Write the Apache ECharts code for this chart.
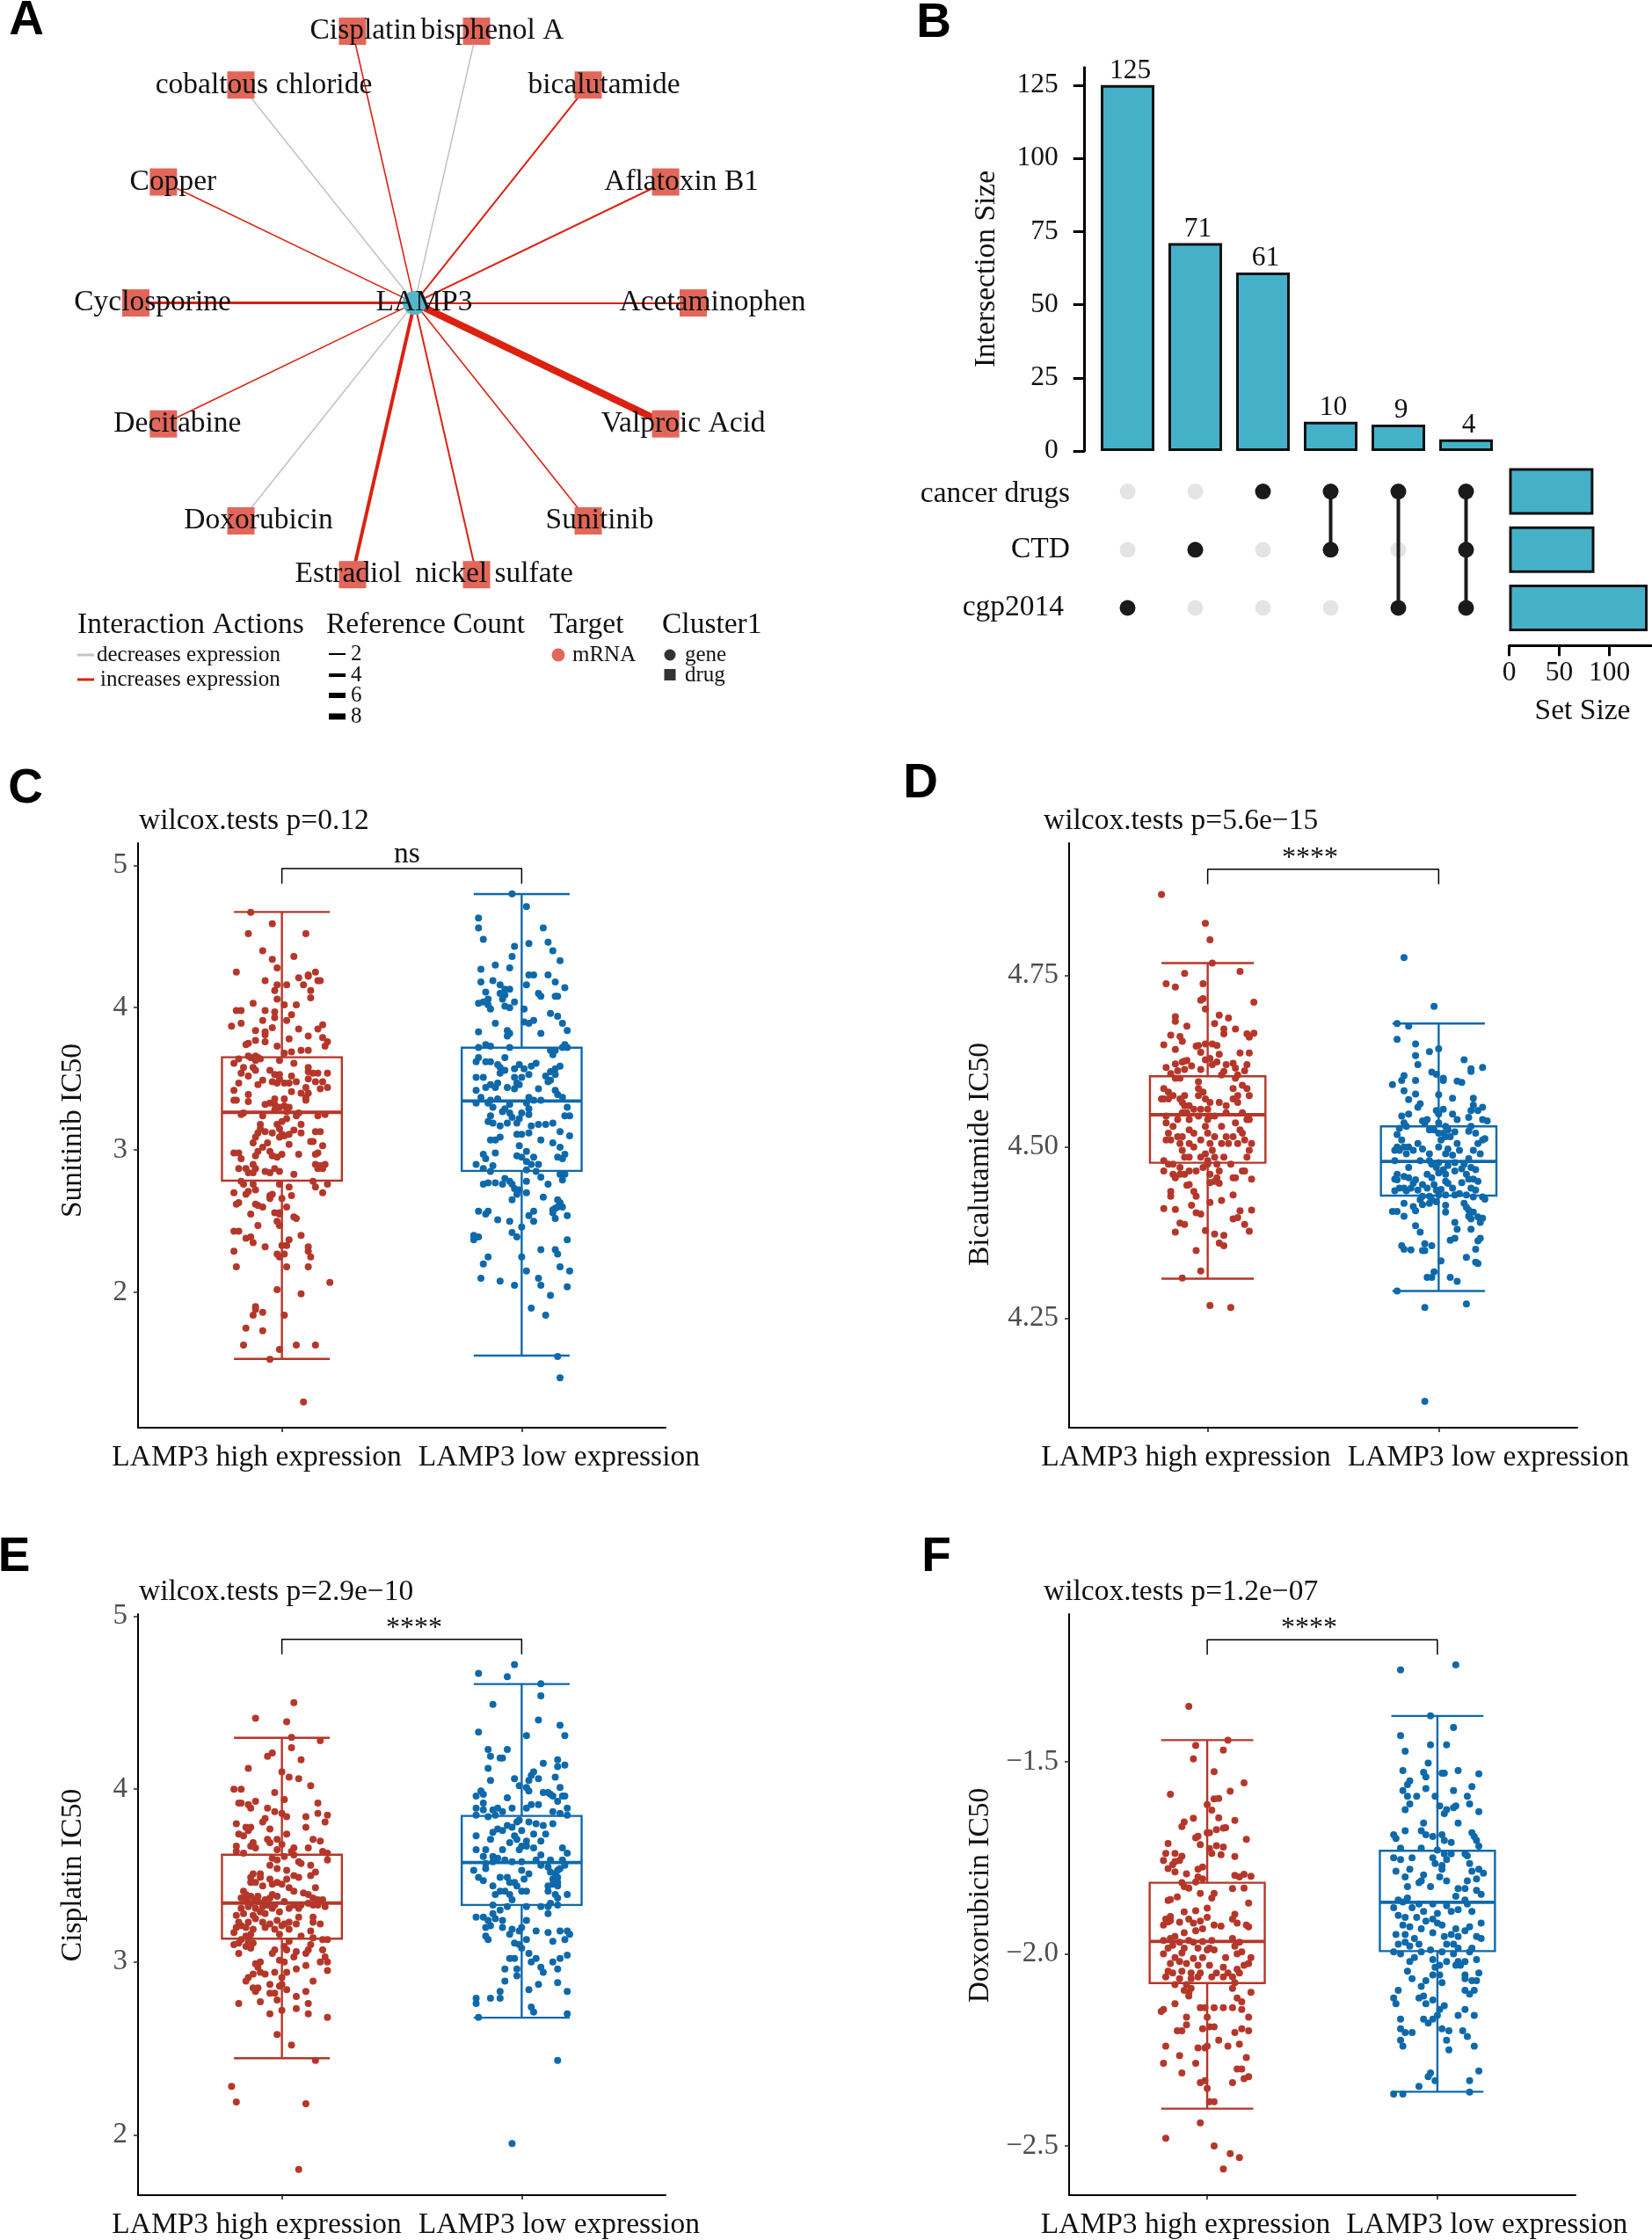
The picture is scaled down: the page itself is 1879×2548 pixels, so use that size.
<!DOCTYPE html>
<html>
<head>
<meta charset="utf-8">
<script src="https://cdn.jsdelivr.net/npm/echarts@6/dist/echarts.min.js"></script>
<style>html,body{margin:0;background:#fff}#main{width:1879px;height:2548px}</style>
</head>
<body>
<div id="main"></div>
<script>
// panel A
const drugNames = ['Acetaminophen','Aflatoxin B1','bicalutamide','bisphenol A','Cisplatin','cobaltous chloride','Copper','Cyclosporine','Decitabine','Doxorubicin','Estradiol','nickel sulfate','Sunitinib','Valproic Acid'];
const drugX = [1,0.901,0.623,0.2225,-0.2225,-0.623,-0.901,-1,-0.901,-0.623,-0.2225,0.2225,0.623,0.901];
const drugY = [0,0.434,0.782,0.975,0.975,0.782,0.434,0,-0.434,-0.782,-0.975,-0.975,-0.782,-0.434];
const refCounts = [2,2,2,1,1,1,1,3,1,1,4,2,1,8];
const increases = [1,1,1,0,1,0,1,1,1,0,1,1,1,1];

// panel B
const interSizes = [125,71,61,10,9,4];
const interRows = [[2],[1],[0],[0,1],[0,2],[0,1,2]];
const setNames = ['cancer drugs','CTD','cgp2014'];
const setSizes = [84,85,138];

// panels C-F, [low whisker, q1, median, q3, high whisker]
const sunitinibHighBox = [1.533,2.785,3.265,3.652,4.672];
const sunitinibLowBox = [1.556,2.854,3.344,3.719,4.798];
const bicalutamideHighBox = [4.308,4.477,4.547,4.603,4.768];
const bicalutamideLowBox = [4.29,4.429,4.479,4.53,4.68];
const cisplatinHighBox = [2.443,3.135,3.341,3.621,4.297];
const cisplatinLowBox = [2.678,3.33,3.576,3.845,4.608];
const doxorubicinHighBox = [-2.403,-2.076,-1.968,-1.815,-1.444];
const doxorubicinLowBox = [-2.359,-1.993,-1.866,-1.732,-1.381];

const sunitinibHigh = [[.87,4.67],[.96,4.59],[.86,4.52],[1.10,4.52],[.92,4.40],[1.05,4.36],[.96,4.34],[.98,4.28],[.81,4.25],[1.14,4.25],[1.11,4.23],[1.07,4.21],[1.11,4.22],[1.15,4.19],[1.16,4.19],[.93,4.19],[1.09,4.16],[.98,4.16],[1.02,4.16],[.97,4.12],[1.12,4.12],[.98,4.06],[1.12,4.07],[.88,4.03],[1.01,4.02],[1.06,4.02],
[.81,3.98],[.83,3.98],[.93,3.98],[.97,3.97],[.97,3.93],[1.04,3.95],[.92,3.91],[1.02,3.91],[.83,3.89],[.79,3.87],[1.17,3.88],[.96,3.86],[1.15,3.85],[1.07,3.85],[.89,3.84],[.93,3.83],[.93,3.81],[1.11,3.80],[1.03,3.78],[1.17,3.79],[.89,3.77],[.93,3.76],[1.19,3.76],[.86,3.75],[.85,3.74],[.98,3.73],[1.18,3.73],[1.08,3.70],[1.11,3.70],[1.04,3.69],[1.01,3.68],
[.89,3.66],[.86,3.66],[.87,3.65],[.90,3.65],[.82,3.64],[.91,3.64],[.89,3.63],[.80,3.61],[.99,3.63],[1.05,3.61],[.84,3.58],[.88,3.58],[.89,3.56],[.95,3.56],[1.11,3.58],[1.11,3.55],[1.13,3.54],[1.15,3.54],[1.19,3.54],[.83,3.54],[.86,3.52],[.97,3.53],[.99,3.53],[.99,3.50],[1.04,3.52],[1.11,3.50],[1.14,3.48],[1.17,3.48],[.82,3.47],[.92,3.49],[.96,3.48],[.98,3.47],[1.01,3.47],[1.03,3.47],[1.06,3.48],[.90,3.46],[1.10,3.44],[1.16,3.43],[1.19,3.44],[.80,3.42],[1.04,3.41],[1.08,3.40],[1.11,3.40],[1.10,3.37],[.86,3.39],[.80,3.35],[.81,3.35],[.86,3.34],[.97,3.36],[1.01,3.36],[1.10,3.35],[.93,3.32],[.95,3.33],[.97,3.32],[.99,3.30],[1.01,3.31],[1.03,3.30],[.97,3.28],[.84,3.26],[.83,3.25],[.92,3.24],[1.02,3.27],[1.06,3.24],[1.07,3.26],[1.15,3.24],[1.18,3.25],[1.02,3.22],[1.00,3.20],[.98,3.18],[.91,3.18],[1.08,3.18],[.91,3.15],[.90,3.12],[.93,3.13],[.96,3.12],[.99,3.15],[1.00,3.11],[1.03,3.11],[1.05,3.14],[1.08,3.12],[1.14,3.13],[1.16,3.13],[.89,3.09],[.99,3.09],[1.01,3.10],[.88,3.05],[.94,3.05],[1.03,3.04],[1.12,3.06],[1.13,3.06],[1.17,3.03],[.92,3.02],[.90,2.99],[.80,2.98],[.82,2.98],[.89,2.96],[.95,2.99],[.96,2.96],[1.00,2.97],[1.07,2.97],[1.14,2.97],[1.15,2.98],[.83,2.94],[.98,2.95],[.88,2.90],[1.14,2.90],[1.16,2.89],[1.18,2.90],[.82,2.87],[.85,2.87],[.89,2.87],[.97,2.87],[1.15,2.87],[1.17,2.87],[.86,2.84],[.88,2.84],[.93,2.85],[.95,2.84],[.99,2.85],[1.05,2.83],
[.83,2.78],[.84,2.76],[.88,2.76],[.99,2.76],[1.13,2.78],[1.19,2.76],[1.14,2.74],[1.03,2.74],[.89,2.72],[.86,2.71],[.80,2.70],[1.17,2.70],[.85,2.69],[.95,2.68],[.95,2.66],[1.04,2.68],[.96,2.69],[1.00,2.66],[.82,2.63],[.81,2.62],[.89,2.62],[.90,2.61],[.92,2.60],[1.02,2.60],[.97,2.56],[.99,2.56],[.99,2.55],[.87,2.55],[1.05,2.53],[1.06,2.52],[.98,2.50],[.99,2.47],[.90,2.47],[.80,2.43],[.82,2.43],[1.08,2.40],[.85,2.38],[.87,2.39],[1.03,2.37],[1.00,2.33],[1.02,2.33],[.88,2.35],[.93,2.32],[.80,2.29],[1.11,2.32],[1.11,2.29],[.98,2.27],[1.01,2.27],[.99,2.25],[1.12,2.25],[.81,2.18],[1.02,2.18],[1.11,2.18],[1.20,2.07],[.98,2.02],[1.08,1.99],[.89,1.90],[.89,1.88],[.92,1.86],[.88,1.84],[1.01,1.84],[.85,1.75],[.92,1.73],[.84,1.63],[1.06,1.63],[1.14,1.63],[.99,1.60],[.95,1.53],[1.09,1.23]];

const sunitinibLow = [[1.96,4.80],[2.02,4.71],[1.82,4.63],[1.82,4.56],[2.09,4.56],[1.84,4.48],[2.11,4.46],[2.03,4.45],[1.97,4.43],[2.13,4.40],[1.96,4.36],[2.16,4.33],[1.89,4.30],[1.95,4.28],[1.83,4.27],[2.03,4.23],[2.05,4.23],[2.11,4.23],[1.88,4.19],[1.83,4.18],[2.14,4.18],[2.02,4.16],[2.18,4.14],[1.91,4.16],[1.93,4.13],[1.95,4.13],[1.85,4.11],[1.91,4.10],[1.93,4.09],[2.07,4.10],[2.08,4.08],[2.14,4.08],[2.15,4.08],[1.86,4.06],[1.84,4.04],[1.82,4.03],[1.86,4.02],[1.92,4.06],[1.97,4.04],[1.93,4.01],[1.95,4.00],[1.87,3.99],[2.01,3.99],[2.12,3.96],[2.15,3.94],[2.01,3.90],[2.03,3.89],[2.05,3.91],[1.89,3.89],[2.17,3.89],[1.82,3.83],[1.94,3.84],[1.95,3.82],[2.08,3.82],[2.19,3.84],[1.94,3.80],[2.18,3.74],[2.17,3.72],[2.19,3.72],[2.12,3.70],[2.14,3.70],[1.82,3.72],[1.85,3.74],[1.87,3.73],[1.95,3.72],[2.13,3.67],[1.82,3.65],[1.81,3.62],[1.85,3.62],[1.87,3.62],[1.93,3.65],[1.90,3.60],[1.99,3.60],[2.06,3.61],[2.04,3.59],[2.16,3.59],[1.91,3.58],[1.97,3.57],[2.01,3.57],[2.14,3.57],[2.12,3.55],[1.91,3.54],[1.93,3.56],[2.03,3.53],[2.10,3.52],[2.14,3.53],[1.81,3.51],[1.84,3.51],[1.97,3.51],[2.00,3.51],[2.12,3.49],[2.11,3.48],[1.87,3.46],[1.90,3.47],[1.98,3.47],[1.99,3.46],[1.85,3.44],[1.81,3.42],[1.89,3.44],[1.94,3.44],[1.97,3.43],[2.07,3.43],[2.14,3.42],[2.15,3.39],[1.83,3.37],[1.87,3.35],[1.90,3.36],[2.03,3.37],[2.08,3.35],[2.17,3.37],[1.81,3.33],[1.86,3.33],[1.95,3.32],[2.02,3.33],[2.05,3.35],[1.88,3.30],[1.93,3.29],[2.03,3.29],[2.19,3.30],[1.92,3.27],[1.95,3.26],[2.00,3.26],[1.87,3.24],[1.96,3.23],[1.99,3.22],[2.03,3.25],[2.18,3.24],[2.20,3.24],[1.86,3.20],[1.88,3.19],[1.94,3.19],[1.98,3.19],[2.07,3.18],[2.10,3.18],[2.04,3.17],[2.13,3.19],[1.91,3.17],[1.91,3.09],[1.87,3.07],[1.89,3.07],[1.98,3.11],[2.00,3.11],[2.03,3.12],[2.16,3.13],[2.20,3.10],[2.08,3.07],[2.13,3.05],[1.99,3.03],[2.16,3.02],[2.02,2.99],[2.18,2.97],[1.89,2.98],[1.84,2.97],[1.98,2.96],[2.00,2.95],[2.05,2.95],[2.15,2.95],[2.17,2.94],[1.85,2.94],[1.88,2.89],[2.02,2.92],[2.04,2.90],[2.07,2.90],[1.81,2.90],[1.84,2.87],[1.87,2.85],[2.02,2.86],[2.06,2.85],[2.16,2.83],[2.18,2.83],[2.08,2.81],[2.17,2.79],[1.93,2.80],[1.95,2.78],[1.96,2.76],[1.84,2.76],[1.86,2.77],[1.89,2.77],[1.92,2.76],[2.02,2.78],[2.11,2.76],[1.97,2.73],[1.99,2.72],[2.02,2.70],[1.98,2.69],[1.96,2.65],[2.09,2.67],[2.15,2.65],[2.16,2.63],[2.15,2.60],[2.05,2.57],[2.13,2.58],[2.14,2.59],[2.17,2.60],[2.13,2.56],[1.82,2.57],[1.85,2.55],[1.86,2.57],[2.03,2.54],[2.19,2.54],[2.14,2.52],[1.90,2.51],[1.95,2.50],[2.05,2.50],[2.00,2.46],[1.96,2.42],[1.98,2.39],[1.80,2.40],[1.82,2.39],[1.80,2.37],[2.19,2.37],[2.08,2.30],[2.14,2.30],[2.15,2.27],[1.86,2.25],[2.00,2.25],[1.84,2.20],[2.16,2.18],[2.20,2.15],[2.02,2.15],[1.83,2.10],[1.91,2.08],[2.07,2.10],[1.97,2.05],[2.08,2.05],[2.19,2.04],[2.12,1.98],[2.04,1.89],[2.10,1.84],[2.15,1.55],[2.16,1.40]];

const bicalutamideHigh = [[.80,4.868],[.99,4.826],[1.01,4.802],[1.02,4.768],[.90,4.753],[1.14,4.756],[.82,4.738],[.86,4.733],[.98,4.738],[1.20,4.711],[.97,4.714],[.98,4.716],[.99,4.701],[1.05,4.692],[1.09,4.688],[.86,4.69],[.86,4.683],[1.03,4.68],[.91,4.676],[1.12,4.672],[1.07,4.672],[1.07,4.665],[1.20,4.666],[1.17,4.665],[1.18,4.66],[.84,4.663],[.88,4.661],[.89,4.654],[.81,4.649],[.95,4.647],[.96,4.648],[.99,4.65],[1.02,4.65],[1.04,4.648],[.86,4.642],[.97,4.638],[1.14,4.637],[1.18,4.637],[1.05,4.635],[1.01,4.629],[.99,4.627],[.89,4.624],[.90,4.625],[.86,4.621],[.91,4.626],[1.04,4.624],[1.02,4.62],[1.08,4.62],[1.11,4.622],[1.17,4.62],[.82,4.616],[.93,4.618],[.90,4.613],[.97,4.613],[.87,4.611],[1.12,4.615],[1.16,4.611],
[.84,4.607],[.86,4.60],[.88,4.60],[.96,4.595],[1.06,4.605],[1.07,4.61],[1.12,4.60],[1.13,4.605],[1.15,4.59],[.96,4.585],[.98,4.58],[1.11,4.585],[1.13,4.575],[1.17,4.585],[1.18,4.575],[.81,4.585],[.83,4.58],[.80,4.57],[.81,4.57],[.83,4.57],[.85,4.575],[.88,4.57],[.90,4.575],[.96,4.575],[.99,4.57],[1.01,4.565],[1.05,4.565],[1.11,4.57],[1.13,4.565],[.89,4.565],[.90,4.56],[.92,4.56],[.94,4.555],[.97,4.555],[1.00,4.555],[1.08,4.56],[1.08,4.55],[1.15,4.55],[.89,4.55],[.91,4.55],[.96,4.545],[1.01,4.545],[1.03,4.545],[.82,4.545],[.87,4.54],[.92,4.54],[1.00,4.54],[1.12,4.535],[1.17,4.54],[1.18,4.54],[.82,4.535],[.85,4.53],[.92,4.525],[.99,4.53],[1.06,4.53],[1.14,4.525],[.83,4.52],[.87,4.515],[.89,4.515],[.94,4.52],[1.00,4.52],[1.03,4.515],[1.08,4.515],[1.11,4.515],[1.15,4.52],[.82,4.51],[.84,4.51],[.88,4.505],[.92,4.505],[.97,4.51],[1.01,4.505],[1.06,4.505],[1.09,4.505],[1.13,4.505],[1.16,4.51],[1.19,4.505],[1.18,4.495],[.89,4.495],[.94,4.50],[.99,4.49],[1.02,4.495],[1.07,4.485],[.90,4.485],[.92,4.485],[.97,4.485],[1.00,4.48],[1.03,4.485],[1.17,4.485],[.81,4.48],[.83,4.475],[.85,4.475],[.88,4.47],[1.00,4.475],[1.04,4.475],[1.10,4.475],[.81,4.465],[.85,4.46],[.88,4.46],[.92,4.465],[.95,4.465],[.98,4.47],[1.01,4.46],[1.05,4.465],[1.15,4.465],[1.16,4.465],[.86,4.455],[.90,4.46],[1.04,4.455],[1.11,4.455],[1.12,4.455],
[1.19,4.453],[1.01,4.448],[1.03,4.45],[1.05,4.447],[.91,4.444],[.92,4.445],[.95,4.428],[.94,4.435],[.84,4.435],[.84,4.428],[1.11,4.43],[1.01,4.419],[1.06,4.422],[.93,4.415],[.81,4.41],[.86,4.409],[.95,4.404],[.97,4.402],[1.14,4.407],[1.19,4.408],[1.13,4.397],[1.11,4.395],[.88,4.389],[.90,4.387],[1.16,4.387],[.86,4.376],[.99,4.378],[1.18,4.377],[1.03,4.373],[1.07,4.371],[1.05,4.36],[1.07,4.356],[.95,4.349],[.97,4.319],[.89,4.309],[1.01,4.269],[1.10,4.266]];

const bicalutamideLow = [[1.85,4.776],[1.98,4.705],[1.82,4.68],[1.87,4.676],[1.82,4.657],[1.90,4.65],[2.0,4.643],[1.96,4.639],[1.90,4.633],[2.11,4.627],[1.91,4.62],[2.14,4.614],[2.19,4.616],[2.14,4.61],[1.97,4.609],[1.99,4.606],[1.85,4.604],[1.84,4.597],[2.02,4.60],[2.02,4.597],[1.90,4.597],[2.08,4.596],[2.10,4.594],[1.80,4.591],[1.85,4.582],[1.90,4.577],[2.0,4.576],[2.06,4.571],[2.15,4.571],[1.87,4.569],[1.92,4.563],[2.15,4.561],[2.19,4.558],[1.91,4.558],[2.14,4.553],[2.17,4.553],[2.02,4.555],[1.99,4.553],[2.06,4.548],[1.87,4.548],[2.0,4.548],[2.13,4.543],[1.84,4.545],[1.93,4.538],[1.95,4.54],[2.08,4.54],[2.19,4.54],[2.21,4.538],[1.85,4.535],[1.86,4.53],[1.94,4.535],[1.96,4.525],[2.0,4.535],[2.03,4.53],[2.04,4.525],[2.14,4.53],[1.83,4.527],[1.98,4.525],[2.0,4.52],[2.02,4.52],[2.03,4.515],[2.05,4.515],[2.07,4.522],[2.13,4.523],[2.16,4.52],[1.82,4.518],[1.84,4.51],[2.01,4.51],[2.20,4.512],[1.91,4.505],[2.08,4.505],[2.17,4.505],[2.19,4.51],[1.82,4.50],[1.83,4.495],[1.85,4.50],[1.87,4.50],[1.89,4.495],[1.93,4.497],[2.0,4.50],[2.04,4.497],[2.09,4.495],[2.15,4.495],[2.18,4.49],[1.81,4.495],[1.86,4.49],[1.96,4.49],[2.03,4.49],[2.06,4.488],[2.13,4.483],[1.81,4.48],[1.92,4.48],[1.96,4.48],[1.97,4.475],[2.0,4.477],[2.04,4.473],[2.07,4.477],[2.11,4.475],[2.14,4.47],[1.87,4.47],[1.99,4.47],[2.02,4.467],[2.07,4.465],[2.10,4.468],[2.16,4.467],[1.82,4.46],[2.0,4.462],[2.03,4.46],[1.95,4.46],[2.12,4.46],[1.85,4.457],[1.87,4.455],[1.81,4.453],[1.82,4.452],[1.90,4.452],[1.97,4.455],[2.13,4.453],[2.15,4.453],[2.03,4.45],[2.17,4.45],[1.89,4.447],[1.93,4.445],[1.98,4.445],[2.04,4.447],[2.10,4.448],[1.85,4.44],[1.83,4.44],[1.88,4.44],[1.95,4.44],[2.01,4.438],[2.06,4.44],[2.14,4.44],[2.16,4.437],[1.81,4.436],[1.86,4.436],[1.91,4.437],[1.99,4.437],[2.09,4.432],[2.12,4.43],[2.0,4.43],[2.03,4.43],[2.07,4.43],[1.93,4.428],[1.96,4.428],[2.15,4.427],[2.19,4.427],[2.20,4.424],[1.92,4.423],[1.97,4.423],[1.99,4.42],[1.93,4.416],[1.96,4.418],[1.85,4.418],[2.03,4.415],[1.89,4.413],[2.11,4.418],[2.12,4.412],[2.13,4.408],[1.80,4.406],[1.82,4.406],[1.90,4.407],[2.03,4.405],[2.15,4.405],[1.85,4.399],[2.13,4.399],[2.17,4.398],[2.19,4.396],[2.14,4.395],[2.18,4.39],[2.07,4.39],[1.90,4.385],[1.92,4.376],[2.08,4.38],[2.14,4.38],[2.07,4.367],[2.05,4.364],[2.18,4.367],[2.17,4.363],[2.16,4.351],[1.94,4.359],[1.84,4.356],[1.85,4.351],[1.88,4.35],[1.97,4.356],[1.93,4.349],[1.94,4.349],[2.12,4.339],[2.01,4.334],[2.16,4.332],[2.17,4.33],[1.98,4.318],[1.95,4.31],[1.97,4.31],[2.05,4.31],[2.08,4.304],[1.82,4.29],[1.94,4.266],[2.12,4.271],[1.94,4.129]];

const cisplatinHigh = [[1.05,4.50],[.89,4.41],[1.02,4.39],[1.04,4.30],[1.16,4.28],[1.04,4.24],[.96,4.21],[.94,4.19],[1.08,4.17],[.86,4.12],[1.0,4.10],[1.03,4.07],[1.07,4.06],[1.12,4.02],[.80,4.0],[.83,4.0],[.97,3.98],[1.01,3.94],[.89,3.93],[.82,3.92],[.83,3.92],[1.15,3.92],[.86,3.91],[.87,3.89],[.94,3.89],[.97,3.87],[1.0,3.86],[1.15,3.86],[1.19,3.85],[1.02,3.84],[.93,3.83],[1.10,3.84],[.92,3.81],[1.18,3.81],[.81,3.80],[.95,3.77],[.85,3.78],[.87,3.78],[1.10,3.78],[.86,3.76],[.82,3.74],[.84,3.73],[1.02,3.74],[.94,3.71],[.98,3.71],[1.13,3.71],[1.16,3.70],[.95,3.69],[1.0,3.68],[.81,3.67],[.88,3.69],[.87,3.67],[.89,3.66],[.98,3.65],[1.11,3.66],[1.05,3.66],[1.04,3.64],[1.17,3.64],[.81,3.64],[.84,3.63],[1.19,3.63],[1.01,3.61],[1.05,3.62],[1.19,3.59],[.96,3.60],[.98,3.59],[1.07,3.58],[1.08,3.57],[1.12,3.56],[.95,3.56],[.98,3.54],[1.02,3.53],[1.14,3.52],[1.12,3.50],[.88,3.51],[.91,3.51],[1.05,3.50],[1.07,3.49],[.87,3.49],[.91,3.49],[.95,3.48],[.87,3.46],[.89,3.46],[.98,3.46],[1.02,3.48],[.96,3.45],[1.00,3.45],[.92,3.44],[1.03,3.43],[1.14,3.43],[1.09,3.40],[1.05,3.41],[.84,3.41],[.85,3.39],[.87,3.38],[.90,3.38],[.96,3.39],[.98,3.38],[1.11,3.39],[.83,3.37],[.85,3.36],[.89,3.36],[.93,3.36],[.95,3.37],[1.13,3.37],[1.15,3.36],[1.17,3.36],[.87,3.34],[.90,3.35],[.92,3.34],[.94,3.33],[.97,3.33],[1.01,3.35],[1.05,3.33],[1.08,3.33],[1.11,3.34],[1.13,3.33],[1.15,3.33],[.83,3.31],[.86,3.32],[.89,3.31],[.92,3.32],[.96,3.31],[1.03,3.31],[1.07,3.31],[1.18,3.32],[.81,3.27],[.84,3.28],[.88,3.27],[.91,3.29],[.93,3.28],[.99,3.29],[1.07,3.26],[1.13,3.26],[.82,3.23],[.86,3.23],[.89,3.25],[.92,3.23],[.95,3.22],[.98,3.24],[1.01,3.22],[1.03,3.23],[1.06,3.22],[1.13,3.23],[1.16,3.22],[.81,3.20],[.83,3.21],[.85,3.20],[.88,3.19],[.93,3.20],[.97,3.19],[1.0,3.21],[1.03,3.19],[1.12,3.18],[.80,3.17],[.85,3.15],[.87,3.16],[.99,3.16],[1.08,3.15],[1.13,3.14],[.83,3.13],[.86,3.12],[.88,3.11],[1.03,3.12],[1.17,3.13],[1.19,3.13],[.80,3.10],[.82,3.11],[.85,3.09],[.87,3.08],[1.01,3.09],[1.12,3.10],[.97,3.07],[1.02,3.07],[1.06,3.06],[1.11,3.07],[1.17,3.07],[.82,3.05],[.96,3.05],[1.10,3.05],[1.18,3.03],[1.05,3.03],[.99,3.01],[1.01,3.0],[1.19,3.0],[1.16,3.0],[.91,3.0],[.89,2.99],[.90,2.97],[1.10,2.98],[1.06,2.96],[.91,2.94],[.93,2.93],[.88,2.93],[.97,2.94],[1.02,2.94],[1.19,2.95],[1.0,2.91],[.86,2.91],[.85,2.89],[1.13,2.89],[.95,2.87],[.99,2.86],[1.0,2.87],[.90,2.85],[.88,2.85],[.89,2.83],[1.02,2.84],[.95,2.82],[.97,2.82],[1.10,2.83],[1.06,2.80],[.98,2.78],[.82,2.76],[.91,2.77],[1.11,2.76],[1.06,2.73],[1.0,2.72],[.95,2.70],[1.11,2.70],[1.19,2.68],[.98,2.58],[1.04,2.52],[1.14,2.43],[.79,2.28],[.81,2.19],[1.10,2.18],[1.07,1.80]];

const cisplatinLow = [[1.97,4.72],[1.94,4.65],[1.82,4.67],[2.08,4.61],[2.08,4.54],[1.88,4.49],[2.07,4.40],[2.16,4.37],[1.82,4.33],[2.02,4.31],[2.18,4.31],[1.86,4.23],[1.94,4.23],[1.87,4.19],[1.91,4.18],[1.92,4.18],[2.15,4.17],[2.09,4.15],[2.18,4.14],[2.15,4.13],[1.86,4.12],[2.05,4.10],[2.04,4.08],[2.14,4.07],[1.97,4.06],[2.03,4.05],[2.07,4.06],[1.87,4.05],[1.99,4.02],[2.02,4.01],[2.03,3.99],[2.16,4.01],[2.09,3.98],[2.11,3.98],[2.12,3.97],[1.83,3.99],[1.84,3.97],[2.13,3.96],[2.17,3.96],[2.18,3.96],[1.81,3.96],[1.94,3.95],[2.15,3.93],[1.84,3.92],[2.07,3.91],[2.04,3.91],[2.02,3.89],[2.19,3.89],[1.96,3.89],[1.81,3.89],[1.84,3.88],[1.88,3.88],[1.90,3.89],[1.92,3.87],[2.13,3.87],[2.16,3.86],[2.19,3.85],[1.81,3.85],[1.86,3.84],[1.89,3.85],[1.99,3.82],[2.03,3.81],[2.13,3.80],[1.94,3.79],[1.96,3.78],[1.98,3.81],[2.06,3.80],[2.09,3.79],[1.90,3.77],[1.92,3.76],[2.0,3.76],[2.10,3.74],[1.81,3.73],[1.88,3.75],[1.97,3.73],[2.05,3.74],[1.87,3.71],[1.98,3.71],[2.02,3.70],[2.08,3.70],[1.95,3.69],[2.0,3.67],[2.02,3.67],[2.05,3.66],[2.17,3.66],[1.81,3.65],[1.85,3.65],[1.92,3.65],[1.99,3.65],[2.19,3.63],[1.84,3.61],[1.88,3.61],[2.08,3.62],[1.90,3.60],[1.93,3.59],[1.96,3.58],[2.06,3.59],[2.12,3.59],[2.17,3.59],[1.85,3.57],[1.88,3.58],[2.0,3.58],[2.08,3.56],[2.18,3.56],[2.11,3.55],[2.16,3.54],[1.85,3.54],[2.0,3.53],[1.80,3.53],[2.03,3.51],[2.12,3.52],[2.14,3.51],[2.15,3.53],[1.91,3.49],[1.82,3.49],[2.13,3.48],[2.15,3.49],[1.94,3.49],[1.84,3.47],[1.95,3.46],[1.97,3.46],[2.01,3.48],[2.14,3.46],[2.15,3.46],[1.88,3.44],[1.98,3.44],[2.11,3.44],[2.13,3.45],[2.15,3.44],[1.91,3.41],[1.93,3.41],[2.0,3.41],[2.02,3.41],[2.11,3.41],[2.14,3.39],[1.89,3.39],[1.95,3.39],[2.19,3.39],[1.96,3.36],[2.15,3.37],[2.12,3.34],[2.08,3.32],[2.11,3.32],[2.15,3.33],[1.88,3.33],[1.94,3.32],[2.02,3.32],[1.88,3.28],[1.91,3.30],[2.11,3.28],[1.81,3.26],[1.84,3.26],[1.86,3.24],[1.89,3.25],[1.92,3.24],[2.02,3.24],[1.87,3.21],[1.85,3.20],[1.92,3.20],[1.96,3.19],[2.0,3.20],[1.99,3.18],[2.06,3.18],[2.11,3.17],[2.16,3.18],[2.19,3.18],[2.2,3.16],[1.85,3.15],[1.95,3.16],[1.86,3.13],[1.97,3.11],[1.99,3.10],[2.02,3.13],[2.13,3.12],[2.18,3.13],[2.0,3.08],[2.03,3.05],[2.06,3.02],[1.95,3.02],[2.16,3.02],[1.97,3.02],[2.04,3.0],[2.19,3.04],[2.13,3.0],[1.93,2.96],[1.98,2.96],[2.08,2.97],[2.15,2.96],[1.98,2.92],[2.09,2.94],[1.93,2.89],[2.15,2.88],[2.07,2.87],[2.03,2.84],[1.91,2.83],[2.19,2.83],[1.81,2.79],[1.87,2.79],[1.91,2.79],[1.81,2.76],[2.04,2.74],[2.05,2.71],[2.19,2.70],[1.82,2.68],[2.15,2.43],[1.96,1.95]];

const doxorubicinHigh = [[.92,-1.356],[1.09,-1.444],[.95,-1.458],[1.07,-1.47],[.94,-1.493],[1.03,-1.526],[1.16,-1.555],[1.10,-1.577],[.84,-1.585],[1.03,-1.597],[1.05,-1.596],[1.0,-1.612],[1.02,-1.626],[.94,-1.647],[1.05,-1.646],[1.12,-1.653],[.90,-1.657],[.89,-1.669],[1.08,-1.672],[1.07,-1.673],[1.04,-1.677],[1.0,-1.685],[1.01,-1.685],[.96,-1.694],[.95,-1.698],[1.17,-1.702],[.97,-1.716],[1.04,-1.719],[1.07,-1.722],[.83,-1.713],[1.01,-1.726],[1.02,-1.739],[.82,-1.739],[.86,-1.739],[1.06,-1.742],[1.12,-1.747],[.89,-1.746],[.81,-1.757],[.88,-1.757],[.86,-1.76],[.85,-1.768],[.83,-1.778],[.96,-1.78],[.98,-1.774],[.86,-1.787],[.91,-1.792],[1.16,-1.793],[1.19,-1.798],[1.12,-1.796],[1.14,-1.80],[.96,-1.80],[.98,-1.805],[.95,-1.813],[.89,-1.815],[.90,-1.825],[.92,-1.829],[1.11,-1.83],[1.16,-1.829],[1.03,-1.843],[.97,-1.843],[1.02,-1.855],[.83,-1.861],[.84,-1.859],[.87,-1.852],[1.18,-1.868],[1.0,-1.881],[.90,-1.891],[.95,-1.888],[1.12,-1.897],[.84,-1.903],[.82,-1.91],[.84,-1.914],[.81,-1.925],[.83,-1.917],[.88,-1.918],[.92,-1.91],[.94,-1.92],[.97,-1.915],[1.0,-1.905],[1.03,-1.925],[1.06,-1.928],[1.11,-1.91],[1.17,-1.925],[1.18,-1.93],[1.13,-1.92],[.95,-1.94],[.98,-1.935],[.90,-1.945],[.86,-1.955],[.84,-1.96],[.81,-1.965],[.88,-1.97],[.92,-1.965],[.94,-1.97],[.98,-1.968],[1.02,-1.965],[1.11,-1.96],[1.14,-1.97],[1.12,-1.98],[.85,-1.978],[.83,-1.985],[.90,-1.985],[.96,-1.985],[1.0,-1.99],[1.01,-1.985],[1.03,-1.99],[1.15,-1.995],[1.13,-2.0],[.89,-1.998],[.81,-2.0],[.86,-2.01],[.94,-2.012],[.98,-2.01],[1.08,-2.01],[1.19,-2.01],[1.18,-2.025],[1.16,-2.03],[.84,-2.025],[.88,-2.02],[.91,-2.025],[.96,-2.03],[1.01,-2.03],[1.07,-2.035],[1.13,-2.04],[.83,-2.045],[.85,-2.05],[.89,-2.045],[.93,-2.05],[.97,-2.05],[1.04,-2.05],[1.09,-2.05],[1.14,-2.05],[.82,-2.06],[.88,-2.065],[.93,-2.065],[.96,-2.06],[1.02,-2.06],[1.07,-2.06],[1.11,-2.06],[.86,-2.08],[.91,-2.08],[.93,-2.09],[1.11,-2.09],[1.12,-2.075],[.90,-2.095],[.92,-2.10],[1.19,-2.10],[.92,-2.11],[1.13,-2.115],[.81,-2.145],[.80,-2.15],[.86,-2.13],[1.11,-2.14],[1.15,-2.125],[1.07,-2.14],[1.03,-2.14],[.97,-2.14],[.99,-2.14],[1.0,-2.165],[.91,-2.165],[1.15,-2.145],[1.18,-2.165],[.91,-2.185],[.89,-2.20],[.87,-2.20],[.98,-2.195],[1.01,-2.19],[1.03,-2.19],[1.12,-2.205],[1.15,-2.195],[1.18,-2.20],[1.05,-2.225],[1.09,-2.24],[1.14,-2.235],[.82,-2.24],[.96,-2.245],[.99,-2.245],[1.0,-2.24],[.88,-2.265],[1.17,-2.27],[.81,-2.285],[.95,-2.285],[1.15,-2.30],[1.13,-2.30],[1.18,-2.32],[1.16,-2.325],[.97,-2.335],[.99,-2.33],[1.11,-2.335],[1.0,-2.35],[.89,-2.31],[1.01,-2.385],[1.03,-2.385],[.97,-2.44],[1.03,-2.50],[1.10,-2.52],[1.14,-2.53],[1.07,-2.56],[.82,-2.48]];

const doxorubicinLow = [[1.84,-1.261],[2.08,-1.248],[1.97,-1.381],[2.07,-1.411],[1.84,-1.432],[1.97,-1.456],[2.04,-1.456],[1.86,-1.473],[1.96,-1.504],[1.85,-1.523],[2.09,-1.523],[1.94,-1.528],[2.02,-1.53],[2.18,-1.532],[2.03,-1.53],[1.95,-1.54],[1.88,-1.55],[1.87,-1.56],[1.85,-1.575],[1.95,-1.57],[2.07,-1.575],[2.15,-1.565],[2.13,-1.59],[1.87,-1.59],[1.91,-1.59],[1.99,-1.59],[2.01,-1.615],[2.04,-1.625],[2.07,-1.62],[2.08,-1.615],[2.14,-1.61],[1.86,-1.625],[1.88,-1.61],[2.03,-1.635],[2.18,-1.63],[1.94,-1.66],[2.09,-1.66],[1.86,-1.68],[1.93,-1.68],[1.95,-1.69],[2.02,-1.69],[2.15,-1.685],[2.16,-1.695],[2.17,-1.705],[1.81,-1.69],[1.82,-1.70],[1.98,-1.695],[2.03,-1.705],[2.18,-1.72],[1.84,-1.725],[1.93,-1.725],[2.06,-1.71],[2.0,-1.73],[2.03,-1.74],[1.81,-1.75],[1.84,-1.755],[1.89,-1.75],[1.98,-1.75],[2.04,-1.755],[2.06,-1.74],[2.12,-1.74],[2.13,-1.745],[1.99,-1.765],[2.02,-1.77],[2.14,-1.765],[2.18,-1.78],[1.82,-1.785],[1.88,-1.78],[2.02,-1.78],[2.15,-1.785],[2.2,-1.79],[1.86,-1.80],[1.93,-1.81],[1.94,-1.795],[2.01,-1.80],[2.04,-1.81],[2.13,-1.81],[2.17,-1.805],[1.87,-1.825],[1.92,-1.815],[1.97,-1.825],[2.09,-1.83],[2.12,-1.83],[2.19,-1.845],[2.17,-1.835],[2.08,-1.85],[1.83,-1.86],[1.87,-1.855],[1.92,-1.87],[1.98,-1.87],[2.04,-1.875],[2.12,-1.86],[2.13,-1.87],[1.85,-1.865],[1.81,-1.88],[1.89,-1.88],[1.94,-1.89],[2.0,-1.895],[2.06,-1.89],[2.09,-1.885],[2.15,-1.89],[1.83,-1.90],[1.86,-1.905],[1.91,-1.905],[1.95,-1.915],[1.98,-1.91],[2.0,-1.92],[2.19,-1.92],[1.85,-1.925],[1.88,-1.93],[1.93,-1.935],[2.02,-1.925],[2.08,-1.935],[2.12,-1.94],[2.14,-1.93],[1.82,-1.95],[1.86,-1.95],[1.90,-1.96],[1.98,-1.945],[2.03,-1.955],[2.06,-1.95],[2.09,-1.955],[2.17,-1.955],[1.83,-1.975],[1.86,-1.97],[1.88,-1.98],[1.92,-1.975],[2.04,-1.975],[2.07,-1.975],[2.09,-1.985],[2.15,-1.985],[2.19,-1.96],[1.81,-1.995],[1.84,-2.0],[1.93,-1.995],[1.97,-1.99],[2.02,-1.995],[2.07,-2.0],[2.14,-1.995],[1.98,-2.015],[2.04,-2.02],[2.09,-2.02],[2.12,-2.02],[1.88,-2.02],[1.9,-2.01],[2.17,-2.015],[1.99,-2.035],[2.01,-2.03],[2.08,-2.03],[2.1,-2.03],[1.87,-2.045],[2.18,-2.05],[1.98,-2.055],[2.01,-2.055],[2.12,-2.055],[1.95,-2.07],[1.89,-2.065],[1.93,-2.085],[2.02,-2.075],[2.12,-2.065],[2.15,-2.07],[2.17,-2.07],[1.92,-2.115],[1.83,-2.095],[1.94,-2.11],[1.98,-2.12],[2.12,-2.095],[2.16,-2.095],[2.14,-2.105],[1.81,-2.115],[2.03,-2.135],[1.82,-2.13],[1.95,-2.13],[2.01,-2.145],[2.12,-2.145],[2.0,-2.16],[2.16,-2.16],[2.09,-2.16],[1.94,-2.17],[1.98,-2.17],[1.84,-2.17],[2.02,-2.195],[1.96,-2.18],[1.84,-2.195],[1.86,-2.205],[1.89,-2.205],[2.04,-2.225],[2.05,-2.20],[2.11,-2.20],[2.13,-2.215],[1.84,-2.225],[1.85,-2.24],[2.16,-2.24],[1.97,-2.31],[1.99,-2.33],[1.81,-2.365],[1.85,-2.365],[2.05,-2.25],[2.18,-2.305],[2.14,-2.33],[1.96,-2.32],[2.14,-2.36],[1.92,-2.345]];

const xGroupNames = ['LAMP3 high expression','LAMP3 low expression'];

const SERIF = '"Liberation Serif","Times New Roman",serif';
const RED = '#b5372a', BLUE = '#0e69ab', TEAL = '#45b1c9', NODE = '#e2675a';
const FS = 33.5;

const panels = [
  {title:'wilcox.tests p=0.12', titleX:158, titleY:934, yName:'Sunitinib IC50', yNameX:83, yNameY:1286, sig:'ns', sigX:463, sigY:972,
   left:157, width:600, top:959, height:665, min:1.05, max:5.156, ticks:[2,3,4,5], digits:0, bracket:[4.87,4.977],
   labelX:[0.895,2.156], high:sunitinibHigh, low:sunitinibLow, highBox:sunitinibHighBox, lowBox:sunitinibLowBox},
  {title:'wilcox.tests p=5.6e\u221215', titleX:1187, titleY:934, yName:'Bicalutamide IC50', yNameX:1115, yNameY:1313, sig:'****', sigX:1490, sigY:977,
   left:1216, width:578, top:959, height:665, min:4.0907, max:4.943, ticks:[4.25,4.5,4.75], digits:2, bracket:[4.883,4.905],
   labelX:[0.906,2.215], high:bicalutamideHigh, low:bicalutamideLow, highBox:bicalutamideHighBox, lowBox:bicalutamideLowBox},
  {title:'wilcox.tests p=2.9e\u221210', titleX:158, titleY:1811, yName:'Cisplatin IC50', yNameX:83, yNameY:2133, sig:'****', sigX:471, sigY:1853,
   left:157, width:600, top:1836, height:664, min:1.651, max:5.013, ticks:[2,3,4,5], digits:0, bracket:[4.78,4.867],
   labelX:[0.895,2.156], high:cisplatinHigh, low:cisplatinLow, highBox:cisplatinHighBox, lowBox:cisplatinLowBox},
  {title:'wilcox.tests p=1.2e\u221207', titleX:1187, titleY:1811, yName:'Doxorubicin IC50', yNameX:1115, yNameY:2156, sig:'****', sigX:1489, sigY:1853,
   left:1216, width:576, top:1836, height:664, min:-2.628, max:-1.116, ticks:[-2.5,-2,-1.5], digits:1, bracket:[-1.222,-1.183],
   labelX:[0.906,2.215], high:doxorubicinHigh, low:doxorubicinLow, highBox:doxorubicinHighBox, lowBox:doxorubicinLowBox}
];

const grids = [], xAxes = [], yAxes = [], series = [], graphics = [];

function txt(text, x, y, opt) {
  const { rotation, ...style } = opt || {};
  return {type:'text', x, y, rotation:rotation || 0, silent:true,
    style:Object.assign({text, fontSize:FS, fontFamily:SERIF, fill:'#111', textAlign:'left', textVerticalAlign:'middle'}, style)};
}

// A: network
grids.push({left:138.65, top:11.75, width:665.7, height:665.7});
xAxes.push({gridIndex:0, type:'value', min:-1.05, max:1.05, show:false});
yAxes.push({gridIndex:0, type:'value', min:-1.05, max:1.05, show:false});
const labelOffsets = [[22,0],[18,0],[18,0],[18,0],[12,0],[26,0],[11,0],[19,0],[16,0],[20,0],[-5,0],[20,0],[13,0],[20,0]];
series.push({
  type:'graph', coordinateSystem:'cartesian2d', xAxisIndex:0, yAxisIndex:0, layout:'none', silent:true,
  data:[{name:'LAMP3', value:[0,0], symbol:'circle', symbolSize:27, itemStyle:{color:'#55b6c8'},
         label:{show:true, position:'inside', offset:[11,0], fontSize:FS, color:'#111', fontFamily:SERIF}}]
    .concat(drugNames.map((n,i)=>({name:n, value:[drugX[i],drugY[i]], symbol:'rect', symbolSize:31, itemStyle:{color:NODE},
         label:{show:true, position:'inside', offset:labelOffsets[i], fontSize:FS, color:'#111', fontFamily:SERIF}}))),
  links:drugNames.map((n,i)=>({source:'LAMP3', target:n,
         lineStyle:{color:increases[i] ? '#dc2110' : '#c4c4c4', width:Math.max(1.6, refCounts[i]*1.0), opacity:1, curveness:0}}))
});

// A: legend
[['Interaction Actions',88],['Reference Count',371],['Target',625],['Cluster1',753]].forEach(t=>graphics.push(txt(t[0],t[1],711)));
const legendRows = [['decreases expression',110,745],['increases expression',114,773],['2',399,744],['4',399,768],['6',399,791],['8',399,815],['mRNA',651,745],['gene',779,745],['drug',779,768]];
legendRows.forEach(r=>graphics.push(txt(r[0],r[1],r[2],{fontSize:25})));
graphics.push({type:'line',silent:true,shape:{x1:88,y1:745,x2:107,y2:745},style:{stroke:'#c4c4c4',lineWidth:3}});
graphics.push({type:'line',silent:true,shape:{x1:88,y1:773,x2:107,y2:773},style:{stroke:'#dc2110',lineWidth:3}});
[[744,2],[768,4],[791,6],[815,7]].forEach(r=>graphics.push({type:'line',silent:true,shape:{x1:374,y1:r[0],x2:393,y2:r[0]},style:{stroke:'#000',lineWidth:r[1]}}));
graphics.push({type:'circle',silent:true,shape:{cx:635,cy:745,r:7.5},style:{fill:NODE}});
graphics.push({type:'circle',silent:true,shape:{cx:762,cy:745,r:6.5},style:{fill:'#333'}});
graphics.push({type:'rect',silent:true,shape:{x:755.5,y:761,width:13,height:13},style:{fill:'#333'}});

// B: intersection bars
grids.push({left:1244, top:76.8, width:462, height:436.2});
xAxes.push({gridIndex:1, type:'category', data:interSizes.map((v,i)=>'i'+i), show:false});
yAxes.push({gridIndex:1, type:'value', min:0, max:131, offset:10.3, splitLine:{show:false},
  axisLine:{show:true, lineStyle:{color:'#000', width:3}},
  axisTick:{show:true, length:13, lineStyle:{color:'#000', width:3}, customValues:[0,25,50,75,100,125]},
  axisLabel:{fontSize:31.5, color:'#111', margin:30, fontFamily:SERIF, customValues:[0,25,50,75,100,125]}});
series.push({type:'bar', xAxisIndex:1, yAxisIndex:1, data:interSizes, barWidth:61, silent:true,
  itemStyle:{color:TEAL, borderColor:'#111', borderWidth:3},
  label:{show:true, position:'top', distance:0, offset:[3,0], fontSize:31.5, color:'#111', fontFamily:SERIF}});
graphics.push(txt('Intersection Size',1122,306,{rotation:Math.PI/2, textAlign:'center'}));

// B: membership matrix
grids.push({left:1244, top:526, width:462, height:198.6});
xAxes.push({gridIndex:2, type:'category', data:interSizes.map((v,i)=>'i'+i), show:false});
yAxes.push({gridIndex:2, type:'category', inverse:true, data:setNames,
  axisLine:{show:false}, axisTick:{show:false},
  axisLabel:{margin:27, color:'#111', fontSize:FS, fontFamily:SERIF,
    formatter:v=>v==='cgp2014' ? '{s|'+v+'}' : v==='cancer drugs' ? '{c|'+v+'}' : v,
    rich:{s:{fontSize:FS, fontFamily:SERIF, color:'#111', padding:[0,7,0,0]},
          c:{fontSize:FS, fontFamily:SERIF, color:'#111', padding:[6,0,0,0]}}}});
const offDots = [], onDots = [];
interRows.forEach((rows,c)=>setNames.forEach((s,r)=>(rows.includes(r) ? onDots : offDots).push([c,r])));
series.push({type:'scatter', xAxisIndex:2, yAxisIndex:2, data:offDots, symbolSize:18, itemStyle:{color:'#e4e4e4', opacity:1}, silent:true, z:2});
interRows.forEach((rows,c)=>{
  if (rows.length > 1) series.push({type:'line', xAxisIndex:2, yAxisIndex:2, data:[[c,rows[0]],[c,rows[rows.length-1]]],
    showSymbol:false, silent:true, z:3, lineStyle:{color:'#1a1a1a', width:4}});
});
series.push({type:'scatter', xAxisIndex:2, yAxisIndex:2, data:onDots, symbolSize:18, itemStyle:{color:'#1a1a1a', opacity:1}, silent:true, z:4});

// B: set size bars
grids.push({left:1716.5, top:526, width:161.5, height:198.6});
xAxes.push({gridIndex:3, type:'value', min:0, max:141.5, offset:9.6, position:'bottom', splitLine:{show:false},
  axisLine:{show:true, lineStyle:{color:'#000', width:3}},
  axisTick:{show:true, length:12, lineStyle:{color:'#000', width:3}, customValues:[0,50,100]},
  axisLabel:{fontSize:31.5, color:'#111', margin:16, fontFamily:SERIF, customValues:[0,50,100]}});
yAxes.push({gridIndex:3, type:'category', inverse:true, data:setNames, show:false});
series.push({type:'bar', xAxisIndex:3, yAxisIndex:3, data:setSizes, barWidth:53, silent:true,
  itemStyle:{color:TEAL, borderColor:'#111', borderWidth:3}});
graphics.push(txt('Set Size',1800,809,{textAlign:'center'}));

// C-F: box + jitter panels
function boxRenderer(color) {
  return function (params, api) {
    const u = api.value(0), w = 0.25, cap = 0.2;
    const [lo,q1,med,q3,hi] = [1,2,3,4,5].map(i=>api.value(i));
    const p = (a,b)=>api.coord([a,b]);
    const seg = (a,b,lw)=>({type:'line', shape:{x1:a[0],y1:a[1],x2:b[0],y2:b[1]}, style:{stroke:color, lineWidth:lw}});
    const tl = p(u-w,q3), br = p(u+w,q1);
    return {type:'group', children:[
      {type:'rect', shape:{x:tl[0],y:tl[1],width:br[0]-tl[0],height:br[1]-tl[1]}, style:{fill:'none',stroke:color,lineWidth:2.4}},
      seg(p(u,q3),p(u,hi),2.4), seg(p(u,q1),p(u,lo),2.4),
      seg(p(u-cap,hi),p(u+cap,hi),2.4), seg(p(u-cap,lo),p(u+cap,lo),2.4),
      seg(p(u-w,med),p(u+w,med),3.8)
    ]};
  };
}

panels.forEach(pn=>{
  const g = grids.length;
  grids.push({left:pn.left, top:pn.top, width:pn.width, height:pn.height});
  xAxes.push({gridIndex:g, type:'value', min:0.4, max:2.6, splitLine:{show:false},
    axisLine:{show:true, onZero:false, lineStyle:{color:'#000', width:2}},
    axisTick:{show:true, length:5, lineStyle:{color:'#222', width:1.6}, customValues:[1,2]},
    axisLabel:{fontSize:FS, color:'#111', margin:17, fontFamily:SERIF, customValues:pn.labelX, formatter:(v,i)=>xGroupNames[v<1.5?0:1]}});
  yAxes.push({gridIndex:g, type:'value', min:pn.min, max:pn.max, splitLine:{show:false},
    axisLine:{show:true, onZero:false, lineStyle:{color:'#000', width:2}},
    axisTick:{show:true, length:5, lineStyle:{color:'#333', width:1.6}, customValues:pn.ticks},
    axisLabel:{fontSize:33, color:'#4d4d4d', margin:12, fontFamily:SERIF, customValues:pn.ticks,
      formatter:v=>v.toFixed(pn.digits).replace('-','\u2212')}});
  [[1,pn.highBox,pn.high,RED],[2,pn.lowBox,pn.low,BLUE]].forEach(([u,box,pts,color])=>{
    series.push({type:'custom', xAxisIndex:g, yAxisIndex:g, silent:true, z:2, clip:false,
      data:[[u].concat(box)], encode:{x:0, y:[1,2,3,4,5]}, renderItem:boxRenderer(color)});
    series.push({type:'scatter', xAxisIndex:g, yAxisIndex:g, silent:true, z:3, data:pts, symbolSize:8, itemStyle:{color, opacity:1}});
  });
  series.push({type:'line', xAxisIndex:g, yAxisIndex:g, silent:true, z:4, showSymbol:false,
    data:[[1,pn.bracket[0]],[1,pn.bracket[1]],[2,pn.bracket[1]],[2,pn.bracket[0]]], lineStyle:{color:'#000', width:1.5}});
  graphics.push(txt(pn.title, pn.titleX, pn.titleY));
  graphics.push(txt(pn.yName, pn.yNameX, pn.yNameY, {rotation:Math.PI/2, textAlign:'center'}));
  graphics.push(txt(pn.sig, pn.sigX, pn.sigY, {textAlign:'center', fontSize:pn.sig==='ns'?FS:32}));
});

// panel letters
[['A',30,24],['B',1062,27],['C',29,898],['D',1047,892],['E',16,1772],['F',1065,1772]].forEach(l=>{
  graphics.push(txt(l[0],l[1],l[2],{textAlign:'center', fontSize:55, fontWeight:'bold', fontFamily:'"Liberation Sans",Arial,sans-serif', fill:'#000'}));
});

const chart = echarts.init(document.getElementById('main'), null, {renderer:'canvas', width:1879, height:2548});
chart.setOption({
  animation:false,
  backgroundColor:'#fff',
  textStyle:{fontFamily:SERIF},
  grid:grids, xAxis:xAxes, yAxis:yAxes, series:series,
  graphic:{elements:graphics}
});
</script>
</body>
</html>
